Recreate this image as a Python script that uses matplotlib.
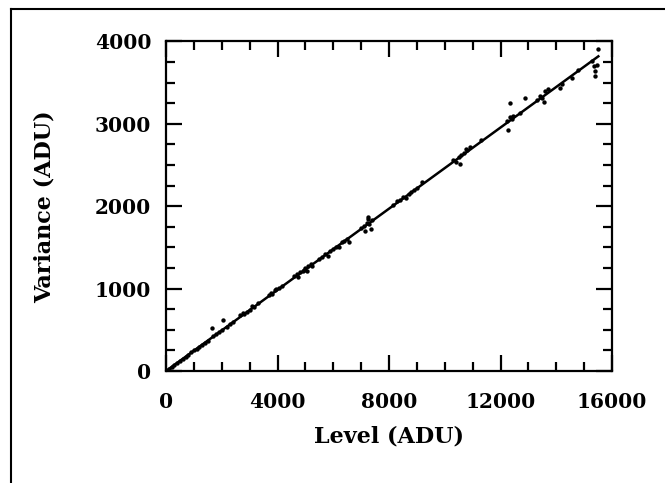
import matplotlib
matplotlib.use("Agg")
import matplotlib.pyplot as plt
from matplotlib.lines import Line2D
from matplotlib.ticker import MultipleLocator

# Measured points (Level, Variance) in ADU
level = [100, 200, 300, 400, 500, 600, 700, 800, 900, 1000, 1100, 1200, 1300,
         1400, 1500, 1700, 1800, 1900, 2000, 2200, 2300, 2400, 1640, 2060,
         2650, 2750, 2800, 2900, 3000, 3100, 3150, 3300,
         3700, 3750, 3800, 3900, 3950, 4050, 4150,
         4600, 4700, 4750, 4800, 4900, 4950, 5000, 5050, 5100, 5200, 5250,
         5500, 5600, 5700, 5800, 5900, 6000, 6100, 6200, 6300, 6400, 6500, 6550,
         7000, 7100, 7150, 7200, 7250, 7300, 7350, 7400, 7250,
         8150, 8300, 8400, 8500, 8600, 8700, 8800, 8900, 9000, 9200,
         10300, 10400, 10500, 10550, 10600, 10700, 10750, 10800, 10900, 11300,
         12280, 12250, 12350, 12400, 12450, 12340, 12880, 12700,
         13300, 13400, 13500, 13600, 13700, 13550,
         14130, 14200, 14550, 14780,
         15300, 15350, 15400, 15450, 15400, 15480]
variance = [25, 50, 75, 100, 122, 150, 170, 200, 225, 250, 270, 295, 320,
            345, 370, 420, 445, 470, 495, 540, 570, 590, 520, 615,
            680, 700, 690, 720, 740, 790, 780, 830,
            920, 950, 935, 980, 1000, 1010, 1030,
            1150, 1180, 1140, 1200, 1210, 1230, 1250, 1210, 1270, 1300, 1280,
            1360, 1380, 1420, 1400, 1460, 1480, 1510, 1500, 1560, 1580, 1600, 1570,
            1730, 1760, 1700, 1800, 1840, 1780, 1720, 1830, 1870,
            2020, 2060, 2080, 2110, 2100, 2150, 2170, 2200, 2220, 2290,
            2560, 2540, 2600, 2510, 2620, 2650, 2700, 2680, 2720, 2800,
            2930, 3040, 3080, 3060, 3100, 3250, 3320, 3130,
            3290, 3340, 3310, 3400, 3420, 3270,
            3440, 3480, 3560, 3650,
            3760, 3700, 3640, 3720, 3580, 3910]

# Linear fit
fit_level = [0, 15510]
fit_variance = [0, 3820]

x_ticks = [0, 4000, 8000, 12000, 16000]
y_ticks = [0, 1000, 2000, 3000, 4000]

FONT = "DejaVu Serif"
FS = 14.5
LFS = 16

fig = plt.figure(figsize=(6.65, 4.83), dpi=100)
ax = fig.add_axes([166 / 665, 1 - 371 / 483, 446 / 665, 329.5 / 483])

ax.scatter(level, variance, s=10, color="black", zorder=3, linewidths=0)
ax.plot(fit_level, fit_variance, color="black", lw=1.8, zorder=2)

ax.set_xlim(0, 16000)
ax.set_ylim(0, 4000)
ax.set_xticks(x_ticks)
ax.set_yticks(y_ticks)
ax.xaxis.set_minor_locator(MultipleLocator(1000))
ax.yaxis.set_minor_locator(MultipleLocator(250))
ax.tick_params(which="both", direction="in", top=True, right=True, width=1.6, color="black")
ax.tick_params(which="major", length=11.5)
ax.tick_params(which="minor", length=6.8)
ax.tick_params(axis="x", which="major", pad=15)
ax.tick_params(axis="y", which="major", pad=10.5)
for lab in ax.get_xticklabels() + ax.get_yticklabels():
    lab.set_fontfamily(FONT)
    lab.set_fontweight("bold")
    lab.set_fontsize(FS)
for sp in ax.spines.values():
    sp.set_linewidth(1.6)

ax.set_xlabel("Level (ADU)", fontfamily=FONT, fontweight="bold", fontsize=LFS, va="center")
ax.xaxis.set_label_coords(0.5, (371 - 436) / 329.5)
ax.set_ylabel("Variance (ADU)", fontfamily=FONT, fontweight="bold", fontsize=LFS, va="center")
ax.yaxis.set_label_coords((45 - 166) / 446, 0.5)

# Figure frame (top and left edges)
fig.add_artist(Line2D([11 / 665, 1.0], [1 - 9 / 483, 1 - 9 / 483], transform=fig.transFigure,
                      color="black", lw=1.5))
fig.add_artist(Line2D([11 / 665, 11 / 665], [0, 1 - 9 / 483], transform=fig.transFigure,
                      color="black", lw=1.5))

fig.savefig("out.png", dpi=100)
